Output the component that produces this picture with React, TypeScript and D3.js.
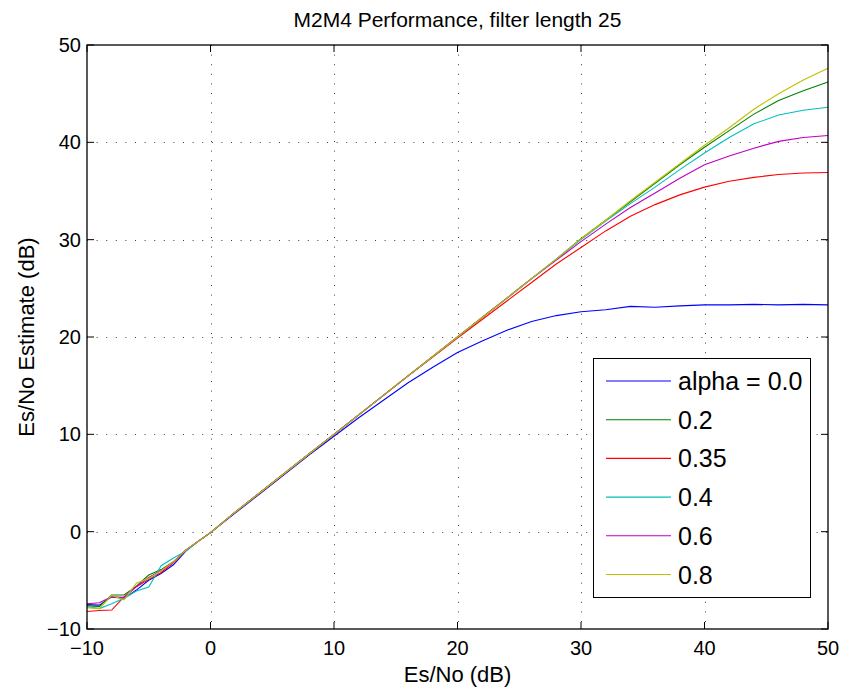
import React from "react";
import * as d3 from "d3";

const xs = [-10, -9, -8, -7, -6, -5, -4, -3, -2, -1, 0, 2, 4, 6, 8, 10, 12, 14, 16, 18, 20, 22, 24, 26, 28, 30, 32, 34, 36, 38, 40, 42, 44, 46, 48, 50];

const alpha00 = [-7.5, -7.55, -6.7, -6.85, -6.0, -5.0, -4.3, -3.4, -2.0, -1.0, -0.1, 1.9, 3.9, 5.9, 7.9, 9.8, 11.7, 13.5, 15.3, 16.9, 18.4, 19.6, 20.7, 21.6, 22.2, 22.6, 22.8, 23.15, 23.05, 23.2, 23.3, 23.3, 23.35, 23.3, 23.35, 23.3];
const alpha02 = [-7.6, -7.7, -6.5, -6.5, -5.6, -4.45, -3.9, -3.1, -1.9, -1.0, -0.1, 2.0, 4.0, 6.0, 8.0, 10.0, 12.0, 14.0, 16.0, 18.0, 20.0, 22.0, 24.0, 26.0, 28.0, 30.1, 32.0, 33.9, 35.8, 37.7, 39.5, 41.2, 42.9, 44.3, 45.3, 46.2];
const alpha035 = [-8.2, -8.1, -8.05, -6.7, -5.65, -4.9, -4.2, -3.2, -1.9, -1.0, -0.1, 2.0, 4.0, 6.0, 8.0, 10.0, 12.0, 14.0, 16.0, 17.95, 19.9, 21.8, 23.7, 25.6, 27.5, 29.2, 30.9, 32.4, 33.6, 34.6, 35.4, 36.0, 36.4, 36.7, 36.85, 36.9];
const alpha04 = [-7.7, -7.9, -7.4, -6.85, -6.1, -5.7, -3.5, -2.7, -2.0, -1.0, -0.1, 2.0, 4.0, 6.0, 8.0, 10.0, 12.0, 14.0, 16.0, 18.0, 20.0, 22.0, 24.0, 26.0, 28.0, 30.0, 31.9, 33.7, 35.4, 37.2, 38.9, 40.5, 41.9, 42.8, 43.3, 43.6];
const alpha06 = [-7.4, -7.3, -6.7, -6.75, -5.65, -4.7, -4.0, -3.1, -1.9, -1.0, -0.1, 2.0, 4.0, 6.0, 8.0, 10.0, 12.0, 14.0, 16.0, 18.0, 20.0, 22.0, 24.0, 26.0, 27.9, 29.8, 31.6, 33.3, 34.8, 36.3, 37.7, 38.6, 39.4, 40.1, 40.5, 40.7];
const alpha08 = [-7.8, -7.9, -6.55, -7.0, -5.3, -4.8, -4.0, -3.1, -1.9, -1.0, -0.1, 2.0, 4.0, 6.0, 8.0, 10.0, 12.0, 14.0, 16.0, 18.0, 20.0, 22.0, 24.0, 26.0, 28.0, 30.1, 32.0, 34.0, 35.9, 37.8, 39.7, 41.5, 43.4, 45.0, 46.4, 47.6];

const seriesNames = ["alpha = 0.0", "0.2", "0.35", "0.4", "0.6", "0.8"];
const seriesColors = ["#0000ff", "#008000", "#ff0000", "#00bfbf", "#bf00bf", "#bfbf00"];
const seriesValues = [alpha00, alpha02, alpha035, alpha04, alpha06, alpha08];

const xTicks = [-10, 0, 10, 20, 30, 40, 50];
const yTicks = [-10, 0, 10, 20, 30, 40, 50];

const titleText = "M2M4 Performance, filter length 25";
const xLabel = "Es/No (dB)";
const yLabel = "Es/No Estimate (dB)";

const fmt = (v: number) => (v < 0 ? "\u2212" + Math.abs(v) : String(v));

export default function App() {
  const W = 843, H = 694;
  const L = 87, R = 828, T = 45, B = 629;
  const x = d3.scaleLinear().domain([-10, 50]).range([L, R]);
  const y = d3.scaleLinear().domain([-10, 50]).range([B, T]);
  const line = d3.line<number>().x((_, i) => x(xs[i])).y((d) => y(d));
  const font = "Liberation Sans, Arial, Helvetica, sans-serif";
  const tl = 7;

  const legX = 593.5, legY = 358.5, legW = 217, legH = 239;
  const rowY0 = 381, rowDy = 38.7;

  return (
    <svg width={W} height={H} style={{ position: "absolute", left: 0, top: 0, background: "#fff" }} fontFamily={font}>
      <rect x={0} y={0} width={W} height={H} fill="#fff" />
      {xTicks.slice(1, -1).map((t) => (
        <line key={"gx" + t} x1={Math.round(x(t)) + 0.5} x2={Math.round(x(t)) + 0.5} y1={T} y2={B} stroke="#000" strokeWidth={1} strokeDasharray="1 8.6" opacity={0.75} />
      ))}
      {yTicks.slice(1, -1).map((t) => (
        <line key={"gy" + t} x1={L} x2={R} y1={Math.round(y(t)) + 0.5} y2={Math.round(y(t)) + 0.5} stroke="#000" strokeWidth={1} strokeDasharray="1 8.6" opacity={0.75} />
      ))}
      {seriesValues.map((vals, i) => (
        <path key={"s" + i} d={line(vals) || ""} fill="none" stroke={seriesColors[i]} strokeWidth={1.1} />
      ))}
      <rect x={L} y={T} width={R - L} height={B - T} fill="none" stroke="#000" strokeWidth={1.3} />
      {xTicks.map((t) => (
        <g key={"tx" + t}>
          <line x1={x(t)} x2={x(t)} y1={B} y2={B - tl} stroke="#000" strokeWidth={1} />
          <line x1={x(t)} x2={x(t)} y1={T} y2={T + tl} stroke="#000" strokeWidth={1} />
          <text x={x(t)} y={655} fontSize={20} textAnchor="middle" fill="#000">{fmt(t)}</text>
        </g>
      ))}
      {yTicks.map((t) => (
        <g key={"ty" + t}>
          <line x1={L} x2={L + tl} y1={y(t)} y2={y(t)} stroke="#000" strokeWidth={1} />
          <line x1={R} x2={R - tl} y1={y(t)} y2={y(t)} stroke="#000" strokeWidth={1} />
          <text x={81} y={y(t) + 7} fontSize={20} textAnchor="end" fill="#000">{fmt(t)}</text>
        </g>
      ))}
      <text x={(L + R) / 2} y={27} fontSize={21} textAnchor="middle" fill="#000">{titleText}</text>
      <text x={(L + R) / 2} y={682} fontSize={22} textAnchor="middle" fill="#000">{xLabel}</text>
      <text transform={`translate(34, ${(T + B) / 2}) rotate(-90)`} fontSize={22} textAnchor="middle" fill="#000">{yLabel}</text>
      <rect x={legX} y={legY} width={legW} height={legH} fill="#fff" stroke="#000" strokeWidth={1} />
      {seriesNames.map((n, i) => (
        <g key={"lg" + i}>
          <line x1={606} x2={671} y1={rowY0 + i * rowDy} y2={rowY0 + i * rowDy} stroke={seriesColors[i]} strokeWidth={1.1} />
          <text x={678} y={rowY0 + i * rowDy + 9} fontSize={25} fill="#000">{n}</text>
        </g>
      ))}
    </svg>
  );
}
